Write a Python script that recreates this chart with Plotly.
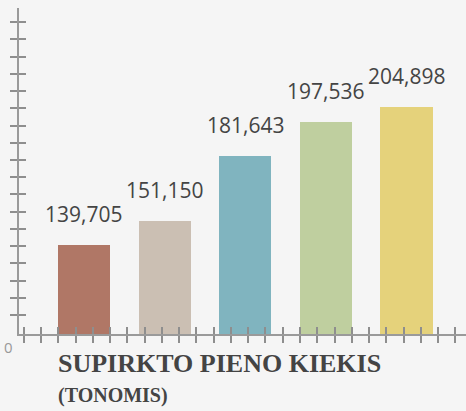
import plotly.graph_objects as go

categories = ["A", "B", "C", "D", "E"]
values = [139705, 151150, 181643, 197536, 204898]
labels = ["139,705", "151,150", "181,643", "197,536", "204,898"]
colors = ["#b07766", "#cbbfb3", "#80b4bf", "#bfcf9f", "#e5d27b"]
title_main = "SUPIRKTO PIENO KIEKIS"
title_sub = "(TONOMIS)"
zero_label = "0"

xpos = list(range(len(categories)))
XR = [-0.806, 4.738]
YR = [97640, 251570]
AXC = "#9a9a9a"
TKC = "#8e8e8e"
YT0, YDT = 106603, 8131
ytickvals = [YT0 + k * YDT for k in range(18)]

fig = go.Figure()
fig.add_trace(go.Bar(x=xpos, y=values, marker=dict(color=colors, line=dict(width=0)),
                     width=0.645, hoverinfo="skip"))
fig.add_trace(go.Scatter(x=xpos, y=values, xaxis="x2", yaxis="y", mode="markers",
                         marker=dict(opacity=0), hoverinfo="skip", showlegend=False))
fig.add_trace(go.Scatter(x=xpos, y=values, xaxis="x", yaxis="y2", mode="markers",
                         marker=dict(opacity=0), hoverinfo="skip", showlegend=False))

tickx = dict(tickmode="linear", tick0=-0.5335, dtick=0.2142, ticklen=7, tickwidth=1.5,
             tickcolor=TKC, showticklabels=False, showgrid=False, zeroline=False,
             range=XR, fixedrange=True)
ticky = dict(tickmode="array", tickvals=ytickvals, ticklen=7, tickwidth=1.5,
             tickcolor=TKC, showticklabels=False, showgrid=False, zeroline=False,
             range=YR, fixedrange=True)

fig.update_layout(
    width=466, height=411,
    margin=dict(l=19, r=0, t=8, b=77),
    paper_bgcolor="#f5f5f5", plot_bgcolor="#f5f5f5",
    showlegend=False,
    bargap=0,
    xaxis=dict(**tickx, ticks="outside", showline=True, linecolor=AXC, linewidth=2),
    xaxis2=dict(**tickx, ticks="inside", overlaying="x", anchor="y", side="bottom", showline=False),
    yaxis=dict(**ticky, ticks="outside", showline=True, linecolor=AXC, linewidth=2),
    yaxis2=dict(**ticky, ticks="inside", overlaying="y", anchor="x", side="left", showline=False),
)

for xi, v, t in zip(xpos, values, labels):
    fig.add_annotation(x=xi, y=v, xref="x", yref="y", text=t, showarrow=False,
                       yanchor="bottom", yshift=15,
                       font=dict(family="Open Sans", size=21, color="#444444"))

fig.add_annotation(x=0.083, y=-0.092, xref="paper", yref="paper", text=title_main,
                   showarrow=False, xanchor="left", yanchor="middle",
                   font=dict(family="Liberation Serif", size=26, color="#444444", weight="bold"))
fig.add_annotation(x=0.083, y=-0.188, xref="paper", yref="paper", text=title_sub,
                   showarrow=False, xanchor="left", yanchor="middle",
                   font=dict(family="Liberation Serif", size=20, color="#444444", weight="bold"))
fig.add_annotation(x=-0.0235, y=-0.0399, xref="paper", yref="paper", text=zero_label,
                   showarrow=False, xanchor="center", yanchor="middle",
                   font=dict(family="Open Sans", size=15, color="#999999"))

fig.write_html("out.html", config={"displayModeBar": False},
               post_script="document.body.style.margin='0';document.documentElement.style.overflow='hidden';")
